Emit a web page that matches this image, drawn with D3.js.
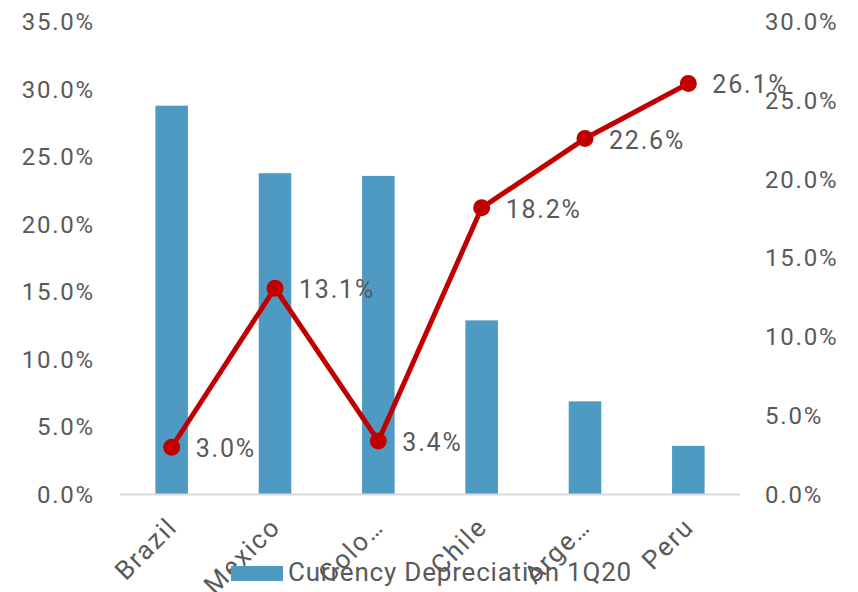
<!DOCTYPE html>
<html>
<head>
<meta charset="utf-8">
<script src="https://cdn.jsdelivr.net/npm/d3@7"></script>
<style>
  html, body { margin: 0; padding: 0; background: #fff; }
  svg { display: block; font-family: Roboto, "Liberation Sans", sans-serif; }
</style>
</head>
<body>
<svg id="chart" width="858" height="592"></svg>
<script>
const categories = ["Brazil", "Mexico", "Colo…", "Chile", "Arge…", "Peru"];
const depreciation = [0.288, 0.238, 0.236, 0.129, 0.069, 0.036];
const lineValues = [0.030, 0.131, 0.034, 0.182, 0.226, 0.261];
const leftTicks = [0, 0.05, 0.10, 0.15, 0.20, 0.25, 0.30, 0.35];
const rightTicks = [0, 0.05, 0.10, 0.15, 0.20, 0.25, 0.30];
const legendLabel = "Currency Depreciation 1Q20";

(function () {
const svg = d3.select("#chart");
const pLeft = 120, pRight = 740, pTop = 22, pBottom = 494.5;
const textColor = "#595959";
const barColor = "#4F9AC2";
const lineColor = "#C00000";

const x = d3.scaleBand().domain(categories).range([pLeft, pRight])
  .paddingInner(0.685).paddingOuter(0.3425);
const yL = d3.scaleLinear().domain([0, 0.35]).range([pBottom, pTop]);
const yR = d3.scaleLinear().domain([0, 0.30]).range([pBottom, pTop]);
const fmt = d3.format(".1%");

// left axis
const gL = svg.append("g").attr("transform", `translate(${pLeft},0)`)
  .call(d3.axisLeft(yL).tickValues(leftTicks).tickFormat(fmt).tickSize(0).tickPadding(25));
gL.select(".domain").remove();
gL.selectAll("text").attr("fill", textColor).style("font-size", "24px")
  .style("letter-spacing", "1.8px").style("font-family", "Roboto");

// right axis
const gR = svg.append("g").attr("transform", `translate(${pRight},0)`)
  .call(d3.axisRight(yR).tickValues(rightTicks).tickFormat(fmt).tickSize(0).tickPadding(25));
gR.select(".domain").remove();
gR.selectAll("text").attr("fill", textColor).style("font-size", "24px")
  .style("letter-spacing", "1.8px").style("font-family", "Roboto");

// bars
svg.append("g").selectAll("rect").data(categories).join("rect")
  .attr("x", d => x(d))
  .attr("width", x.bandwidth())
  .attr("y", (d, i) => yL(depreciation[i]))
  .attr("height", (d, i) => yL(0) - yL(depreciation[i]))
  .attr("fill", barColor);

// baseline
svg.append("line").attr("x1", pLeft).attr("x2", pRight)
  .attr("y1", yL(0)).attr("y2", yL(0))
  .attr("stroke", "#D9D9D9").attr("stroke-width", 2);

// category labels
svg.append("g").selectAll("text").data(categories).join("text")
  .attr("transform", d => `translate(${x(d) + x.bandwidth() / 2 + 7},${pBottom + 34}) rotate(-45)`)
  .attr("text-anchor", "end")
  .attr("fill", textColor)
  .style("font-size", "26px")
  .style("letter-spacing", "1.8px")
  .text(d => d);

// line
const pts = categories.map((c, i) => [x(c) + x.bandwidth() / 2, yR(lineValues[i])]);
svg.append("path").datum(pts)
  .attr("d", d3.line())
  .attr("fill", "none").attr("stroke", lineColor)
  .attr("stroke-width", 5).attr("stroke-linejoin", "round");
svg.append("g").selectAll("circle").data(pts).join("circle")
  .attr("cx", d => d[0]).attr("cy", d => d[1]).attr("r", 8.5)
  .attr("fill", lineColor);

// data labels
svg.append("g").selectAll("text").data(pts).join("text")
  .attr("x", d => d[0] + 24).attr("y", d => d[1] + 10)
  .attr("fill", textColor)
  .style("font-size", "25px")
  .style("letter-spacing", "1.8px")
  .text((d, i) => fmt(lineValues[i]));

// legend
const lg = svg.append("g");
lg.append("rect").attr("x", 231).attr("y", 566).attr("width", 52).attr("height", 15)
  .attr("fill", barColor);
lg.append("text").attr("x", 288).attr("y", 581)
  .attr("fill", textColor).style("font-size", "26px").style("letter-spacing", "0.8px")
  .text(legendLabel);
})();
</script>
</body>
</html>
